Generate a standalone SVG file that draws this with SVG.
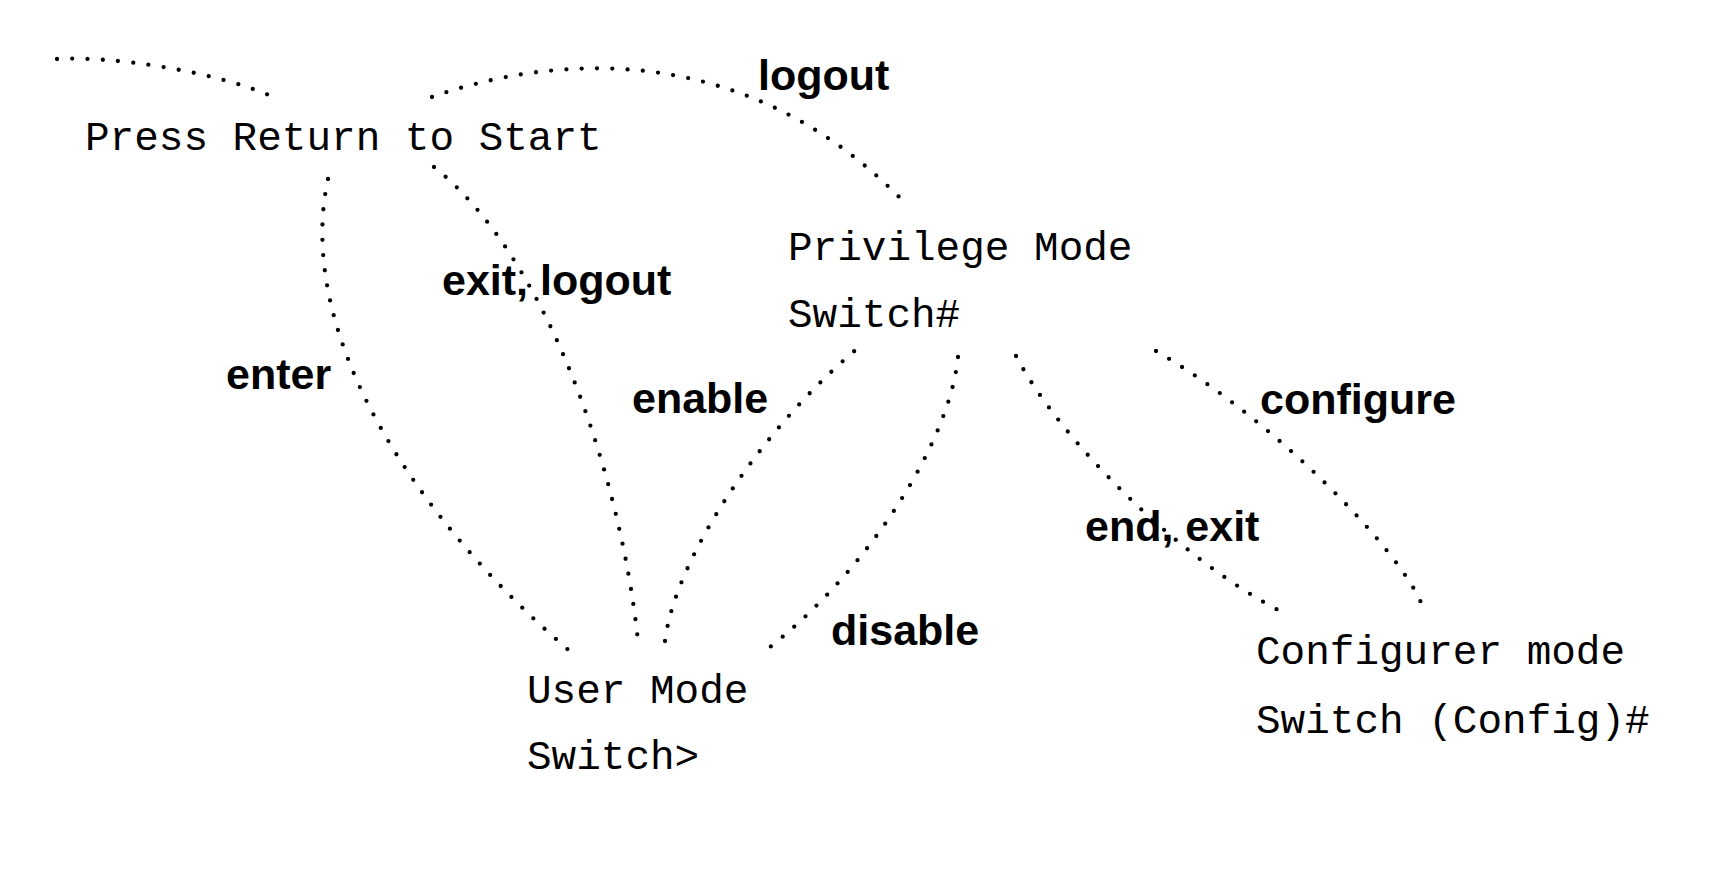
<svg xmlns="http://www.w3.org/2000/svg" width="1710" height="884" viewBox="0 0 1710 884">
  <style>
    .node { font-family: "Liberation Mono", "Courier New", monospace; font-size: 41px; fill: #000; }
    .edge { fill: none; stroke: #000; stroke-width: 4.3; stroke-linecap: round; stroke-dasharray: 0 15.3; }
    .lbl { font-family: "Liberation Sans", Arial, Helvetica, sans-serif; font-weight: bold; font-size: 43px; fill: #000; }
  </style>
  <rect width="1710" height="884" fill="#fff"/>
  <g id="connectors">
    <path class="edge" d="M57,59 C110,56 210,70 271,96"/>
    <path class="edge" d="M432,97 C552,55 745,37 905,203"/>
    <path class="edge" d="M328,179 C295,330 410,515 572,653"/>
    <path class="edge" d="M434,167 C545,255 620,470 638,641"/>
    <path class="edge" d="M665,641 C675,560 760,430 858,348"/>
    <path class="edge" d="M958,357 C950,440 870,570 765,651"/>
    <path class="edge" d="M1016,356 C1060,440 1180,560 1282,612"/>
    <path class="edge" d="M1156,351 C1275,420 1400,550 1422,605"/>
    <g id="edge-labels">
      <text class="lbl" x="758" y="90">logout</text>
      <text class="lbl" x="442" y="295">exit, logout</text>
      <text class="lbl" x="226" y="389">enter</text>
      <text class="lbl" x="632" y="413">enable</text>
      <text class="lbl" x="1260" y="414">configure</text>
      <text class="lbl" x="1085" y="541">end, exit</text>
      <text class="lbl" x="831" y="645">disable</text>
    </g>
  </g>
  <g id="node-start">
    <text class="node" x="85" y="150">Press Return to Start</text>
  </g>
  <g id="node-privilege">
    <text class="node" x="788" y="260">Privilege Mode</text>
    <text class="node" x="788" y="327">Switch#</text>
  </g>
  <g id="node-user">
    <text class="node" x="527" y="703">User Mode</text>
    <text class="node" x="527" y="769">Switch&gt;</text>
  </g>
  <g id="node-config">
    <text class="node" x="1256" y="664">Configurer mode</text>
    <text class="node" x="1256" y="733">Switch (Config)#</text>
  </g>
</svg>
